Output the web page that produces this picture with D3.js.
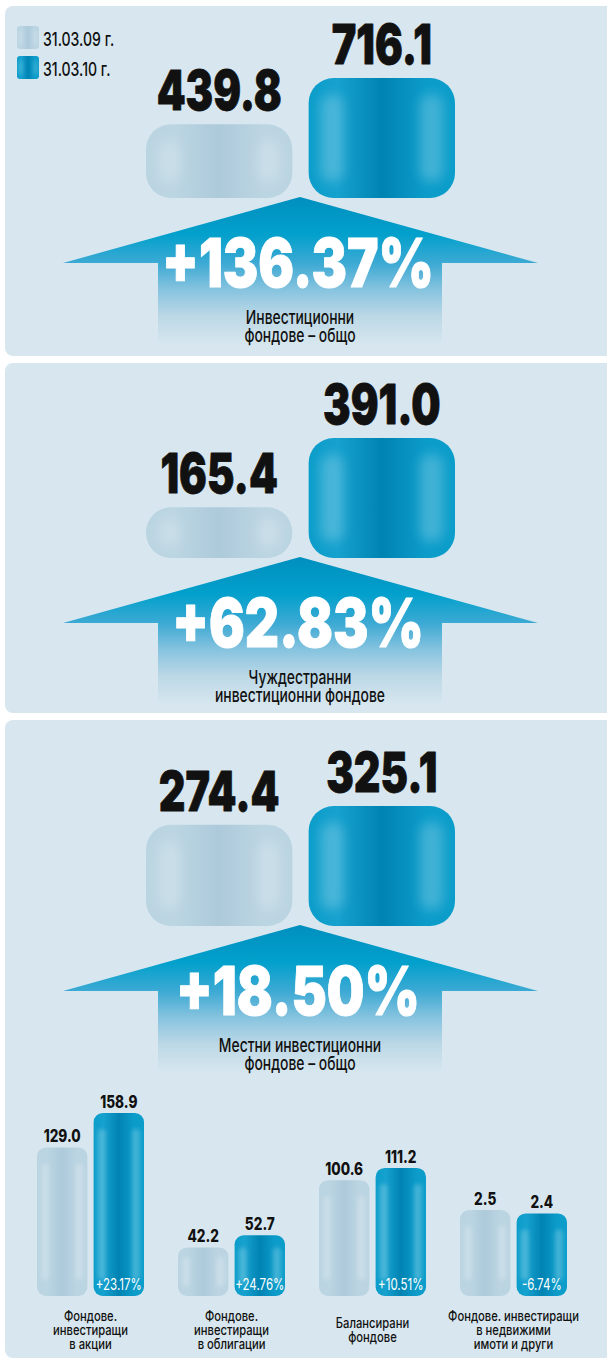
<!DOCTYPE html>
<html><head><meta charset="utf-8">
<script src="https://cdn.jsdelivr.net/npm/d3@7/dist/d3.min.js"></script>
<style>
html,body{margin:0;padding:0;background:#fff;}
svg{display:block;}
text{font-variant-numeric:proportional-nums;}
</style></head>
<body>
<svg id="chart" width="607" height="1359"></svg>
<script>
// ---------- DATA ----------
const seriesNames = ["31.03.09 г.", "31.03.10 г."];
const panelTitles = [
  ["Инвестиционни", "фондове – общо"],
  ["Чуждестранни", "инвестиционни фондове"],
  ["Местни инвестиционни", "фондове – общо"]
];
const panelValues2009 = [439.8, 165.4, 274.4];
const panelValues2010 = [716.1, 391.0, 325.1];
const panelChanges = ["+136.37%", "+62.83%", "+18.50%"];

const localCategories = [
  ["Фондове.", "инвестиращи", "в акции"],
  ["Фондове.", "инвестиращи", "в облигации"],
  ["Балансирани", "фондове"],
  ["Фондове. инвестиращи", "в недвижими", "имоти и други"]
];
const localValues2009 = [129.0, 42.2, 100.6, 2.5];
const localValues2010 = [158.9, 52.7, 111.2, 2.4];
const localChanges = ["+23.17%", "+24.76%", "+10.51%", "-6.74%"];

// ---------- LAYOUT ----------
const FONT = "Inter, Roboto, 'Liberation Sans', sans-serif";
const PANEL_BG = "#d8e7ef";
const panelRects = [{y: 6, h: 350}, {y: 363, h: 350}, {y: 720, h: 638}];
const panelBase = [198, 558, 926];
const fmt = d3.format(".1f");

const svg = d3.select("#chart");
const defs = svg.append("defs");

// text helper: draws text and compresses it horizontally (condensed look)
function T(g, x, y, str, o) {
  const t = g.append("text").attr("x", x).attr("y", y)
    .attr("text-anchor", o.anchor || "middle")
    .attr("font-family", FONT).attr("font-size", o.size)
    .attr("font-weight", o.weight || 400)
    .attr("fill", o.fill || "#111").text(str);
  if (o.stroke) t.attr("stroke", o.fill || "#111").attr("stroke-width", o.stroke).attr("stroke-linejoin", "round");
  const w = t.node().getComputedTextLength();
  t.attr("textLength", w * o.sx).attr("lengthAdjust", "spacingAndGlyphs");
  return t;
}

function hGrad(id, stops) {
  const g = defs.append("linearGradient").attr("id", id)
    .attr("x1", "0").attr("x2", "1").attr("y1", "0").attr("y2", "0");
  stops.forEach(s => g.append("stop").attr("offset", s[0]).attr("stop-color", s[1]));
}
hGrad("gDark", [[0, "#0b9dca"], [0.2, "#16a1ce"], [0.5, "#0083b3"], [0.8, "#0c9cca"], [1, "#0b9dca"]]);
hGrad("gLight", [[0, "#bad4e1"], [0.2, "#bbd5e2"], [0.5, "#adcadb"], [0.8, "#bcd5e2"], [1, "#bad4e1"]]);

const arrowG = defs.append("linearGradient").attr("id", "gArrow")
  .attr("x1", "0").attr("x2", "0").attr("y1", "0").attr("y2", "1");
[[0, "#008fbf"], [0.25, "#02a0cc"], [0.45, "#3eaad4"], [0.62, "#86c3df"], [0.8, "#bcd8e6"], [1, PANEL_BG]]
  .forEach(s => arrowG.append("stop").attr("offset", s[0]).attr("stop-color", s[1]));

function blurFilter(id, sd) {
  const f = defs.append("filter").attr("id", id).attr("x", "-100%").attr("y", "-50%").attr("width", "300%").attr("height", "200%");
  f.append("feGaussianBlur").attr("stdDeviation", sd);
}
blurFilter("fBlurS", 2);
blurFilter("fBlurL", 6);

// panels
svg.selectAll("rect.panel").data(panelRects).join("rect")
  .attr("class", "panel")
  .attr("x", 5).attr("y", d => d.y).attr("width", 640).attr("height", d => d.h)
  .attr("rx", 8).attr("fill", PANEL_BG);

function drawBar(g, x, y, w, h, r, dark) {
  g.append("rect").attr("x", x).attr("y", y).attr("width", w).attr("height", h)
    .attr("rx", r).attr("fill", dark ? "url(#gDark)" : "url(#gLight)");
  const hw = w * 0.16, inset = Math.min(h * 0.2, 16);
  [x + w * 0.08, x + w * 0.76].forEach(hx => {
    g.append("rect").attr("x", hx).attr("y", y + inset).attr("width", hw)
      .attr("height", Math.max(0, h - 2 * inset)).attr("rx", hw / 2)
      .attr("fill", "#fff").attr("opacity", dark ? 0.22 : 0.2)
      .attr("filter", w > 80 ? "url(#fBlurL)" : "url(#fBlurS)");
  });
}

// legend
const legend = svg.append("g");
seriesNames.forEach((name, i) => {
  const gy = 26 + i * 30;
  drawBar(legend, 17, gy, 22, 23, 3, i === 1);
  T(legend, 43, gy + 20, name, {size: 19, weight: 500, sx: 0.74, anchor: "start"});
});

// big panels
const xBig = d3.scaleBand().domain(seriesNames).range([146, 455]).paddingInner(0.1);
panelValues2009.forEach((v09, i) => {
  const g = svg.append("g");
  const base = panelBase[i];
  const vals = [v09, panelValues2010[i]];
  const y = d3.scaleLinear().domain([0, d3.max(vals)]).range([0, 120]);
  const cx = 300;

  // arrow
  const aTop = base - 1, wing = base + 65, bot = base + 148;
  g.append("path")
    .attr("d", `M${cx},${aTop} L${cx + 238},${wing} L${cx + 142},${wing} L${cx + 142},${bot} L${cx - 142},${bot} L${cx - 142},${wing} L${cx - 237},${wing} Z`)
    .attr("fill", "url(#gArrow)");

  vals.forEach((v, j) => {
    const h = y(v), bx = xBig(seriesNames[j]), bw = xBig.bandwidth();
    drawBar(g, bx, base - h, bw, h, Math.min(25, h / 2), j === 1);
    T(g, bx + bw / 2, base - h - 14, fmt(v), {size: 55, weight: 900, sx: 0.75, stroke: 0.8});
  });

  T(g, cx - 2, base + 89, panelChanges[i], {size: 68, weight: 900, sx: 0.78, fill: "#fff", stroke: 1});

  panelTitles[i].forEach((line, k) => {
    T(g, cx, base + 126 + k * 18, line, {size: 19, weight: 500, sx: 0.73});
  });
});

// local fund groups
const groupKeys = localCategories.map((c, i) => "g" + i);
const xGroup = d3.scaleBand().domain(groupKeys).range([20, 584]);
const xInner = d3.scaleBand().domain(seriesNames).range([0, 107]).paddingInner(0.11);
const localBase = 1296;
const yLocal = d3.scaleLinear().domain([0, d3.max(localValues2010.concat(localValues2009))]).range([0, 183]);
const localG = svg.append("g");
localCategories.forEach((cat, i) => {
  const vals = [localValues2009[i], localValues2010[i]];
  const gMax = d3.max(vals);
  // very small groups are drawn on an enlarged inset scale
  const yS = gMax < yLocal.domain()[1] * 0.05
    ? d3.scaleLinear().domain([0, gMax]).range([0, 86]) : yLocal;
  const gx = xGroup(groupKeys[i]) + xGroup.bandwidth() / 2 - 53.5;
  vals.forEach((v, j) => {
    const h = yS(v), bx = gx + xInner(seriesNames[j]), bw = xInner.bandwidth();
    drawBar(localG, bx, localBase - h, bw, h, 9, j === 1);
    T(localG, bx + bw / 2, localBase - h - 5, fmt(v), {size: 17, weight: 800, sx: 0.8});
    if (j === 1) {
      T(localG, bx + bw / 2, localBase - 6, localChanges[i], {size: 16, weight: 400, sx: 0.72, fill: "#fff"});
    }
  });
  const cx = gx + 53.5;
  const start = 1335 - (cat.length - 1) * 7;
  cat.forEach((line, k) => {
    T(localG, cx, start + k * 14, line, {size: 14, weight: 500, sx: 0.8});
  });
});
</script>
</body></html>
